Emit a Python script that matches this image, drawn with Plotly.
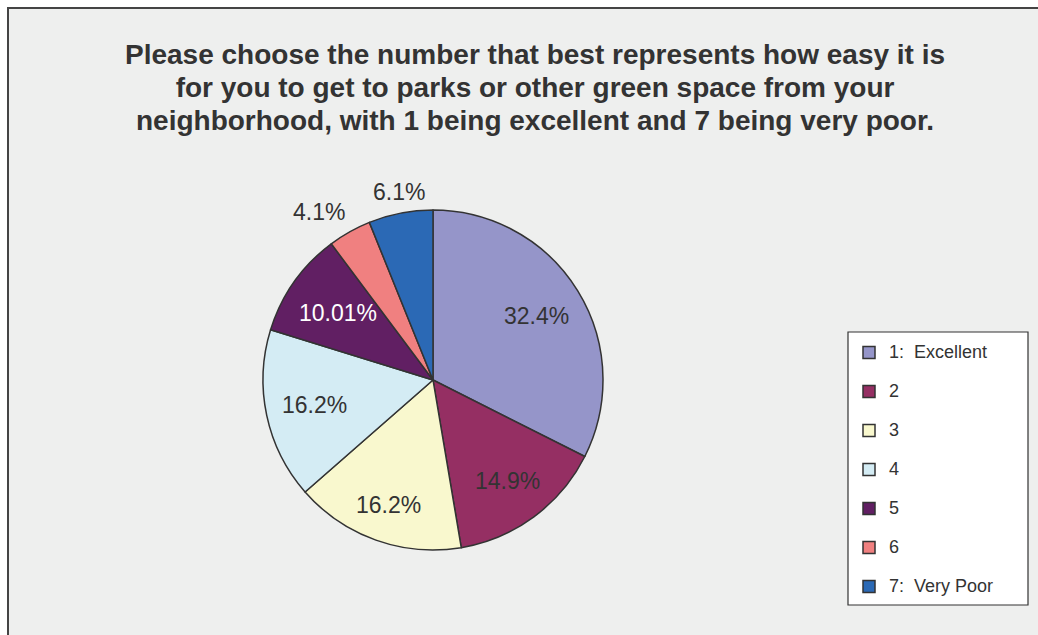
import math
import plotly.graph_objects as go

# Survey responses: ease of access to parks / green space (1 = excellent, 7 = very poor)
categories = ["1:  Excellent", "2", "3", "4", "5", "6", "7:  Very Poor"]
percentages = [32.4, 14.9, 16.2, 16.2, 10.01, 4.1, 6.1]
slice_colors = ["#9595C9", "#952F63", "#F9F8CE", "#D4ECF4", "#611F63", "#F08080", "#2B69B5"]
label_colors = ["#333333", "#333333", "#333333", "#333333", "#FFFFFF", "#333333", "#333333"]
label_positions = ["inside", "inside", "inside", "inside", "inside", "outside", "outside"]

title_lines = [
    "Please choose the number that best represents how easy it is",
    "for you to get to parks or other green space from your",
    "neighborhood, with 1 being excellent and 7 being very poor.",
]

W, H = 1038, 635
LABEL_SIZE = 23
LABEL_FONT = dict(family="Liberation Sans", size=LABEL_SIZE)


def px(x):
    return x / W


def py(y):
    return 1 - y / H


# pie geometry in pixels
cx, cy, r = 433, 380, 170

value_text = [f"{v}%" for v in percentages]

fig = go.Figure(go.Pie(
    labels=[f'<span style="font-size:18px;baseline-shift:5px">{c}</span>' for c in categories],
    values=percentages,
    textinfo="none",
    marker=dict(colors=slice_colors, line=dict(color="#333333", width=1.5)),
    sort=False,
    direction="clockwise",
    rotation=0,
    domain=dict(x=[px(cx - r), px(cx + r)], y=[py(cy + r + 15), py(cy - r - 15)]),
    hoverinfo="text",
    hovertext=[f"{c}: {t}" for c, t in zip(categories, value_text)],
))

# data labels: inside ones sit on each slice's bisector with their outer edge
# a fixed distance in from the rim; outside ones are anchored just beyond the
# rim (no leader lines)
annotations = []
total = sum(percentages)
cum = 0.0
inner_reach = 0.91 * r
for v, t, pos, col in zip(percentages, value_text, label_positions, label_colors):
    mid = (cum + v / 2) / total * 2 * math.pi
    cum += v
    ux, uy = math.sin(mid), -math.cos(mid)
    if pos == "inside":
        box_w = 0.557 * LABEL_SIZE * len(t)
        box_h = 24
        d = inner_reach - (abs(ux) * box_w / 2 + abs(uy) * box_h / 2)
        xa, ya = "center", "middle"
    else:
        d = r + 6
        xa = "right" if ux < -0.3 else ("left" if ux > 0.3 else "center")
        ya = "bottom" if uy < -0.3 else ("top" if uy > 0.3 else "middle")
    annotations.append(dict(
        x=px(cx + ux * d), y=py(cy + uy * d), xref="paper", yref="paper",
        xanchor=xa, yanchor=ya, text=t, showarrow=False,
        font=dict(**LABEL_FONT, color=col),
    ))

# chart title
annotations.append(dict(
    x=px(535), y=py(37), xref="paper", yref="paper",
    xanchor="center", yanchor="top", align="center",
    text="<br>".join(f'<span style="font-size:28px">{ln}</span>' for ln in title_lines),
    showarrow=False,
    font=dict(family="Liberation Sans", size=25.5, color="#333333", weight="bold"),
))

fig.update_layout(
    width=W, height=H,
    margin=dict(l=0, r=0, t=0, b=0),
    paper_bgcolor="#FFFFFF",
    showlegend=True,
    legend=dict(
        x=px(849), xanchor="left",
        y=py(328), yanchor="top",
        bgcolor="rgba(0,0,0,0)",
        borderwidth=0,
        font=dict(family="Liberation Sans", size=27.7, color="#333333"),
        traceorder="normal",
    ),
    annotations=annotations,
    shapes=[
        # chart area with its frame
        dict(type="rect", xref="paper", yref="paper", layer="below",
             x0=px(8), x1=px(W + 10), y0=py(H + 10), y1=py(8),
             fillcolor="#EEEFEE", line=dict(color="#444444", width=2)),
        # legend frame
        dict(type="rect", xref="paper", yref="paper", layer="below",
             x0=px(848), x1=px(1028), y0=py(605), y1=py(332),
             fillcolor="#FFFFFF", line=dict(color="#333333", width=1.2)),
    ],
)

fig.write_html("out.html")
